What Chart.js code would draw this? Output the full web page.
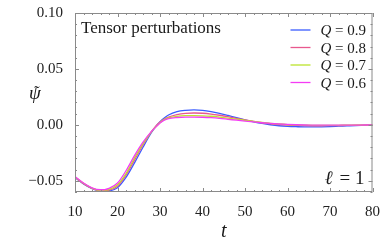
<!DOCTYPE html>
<html>
<head>
<meta charset="utf-8">
<script src="https://cdn.jsdelivr.net/npm/chart.js@4"></script>
<style>
  html, body { margin: 0; padding: 0; background: #fff; }
  #wrap { width: 383px; height: 247px; }
</style>
</head>
<body>
<div id="wrap"><canvas id="chart" width="383" height="247"></canvas></div>
<script>
// time samples
var tVals = [10, 12, 14, 16, 17, 18, 20, 22, 24, 26, 28, 29, 30, 31, 32, 34, 36, 38, 40, 42, 44, 46, 48, 50,
             52, 54, 56, 58, 60, 62, 64, 66, 68, 70, 72, 74, 76, 78, 80];

var psiQ09 = [-0.0472, -0.0528, -0.0570, -0.0592, -0.0595, -0.0592, -0.0562, -0.0470, -0.0340, -0.0200, -0.0068,
              -0.0015, 0.0028, 0.0062, 0.0088, 0.0118, 0.0130, 0.0134, 0.0130, 0.0119, 0.0103, 0.0084, 0.0064, 0.0045,
              0.0028, 0.0013, 0.0001, -0.0008, -0.0013, -0.0016, -0.0018, -0.0018, -0.0017, -0.0015, -0.0012, -0.0009,
              -0.0006, -0.0004, -0.0002];
var psiQ08 = [-0.0468, -0.0525, -0.0567, -0.0588, -0.0589, -0.0584, -0.0548, -0.0450, -0.0315, -0.0180, -0.0060,
              -0.0012, 0.0025, 0.0052, 0.0070, 0.0092, 0.0103, 0.0106, 0.0104, 0.0097, 0.0086, 0.0073, 0.0058, 0.0044,
              0.0031, 0.0019, 0.0010, 0.0003, -0.0002, -0.0005, -0.0007, -0.0008, -0.0008, -0.0007, -0.0006, -0.0005,
              -0.0003, -0.0002, -0.0001];
var psiQ07 = [-0.0465, -0.0522, -0.0565, -0.0585, -0.0584, -0.0577, -0.0535, -0.0435, -0.0295, -0.0168, -0.0060,
              -0.0018, 0.0020, 0.0047, 0.0062, 0.0076, 0.0082, 0.0083, 0.0081, 0.0077, 0.0070, 0.0061, 0.0051, 0.0041,
              0.0031, 0.0022, 0.0014, 0.0008, 0.0003, 0.0000, -0.0002, -0.0004, -0.0004, -0.0004, -0.0004, -0.0003,
              -0.0002, -0.0001, -0.0001];
var psiQ06 = [-0.0462, -0.0520, -0.0563, -0.0580, -0.0578, -0.0568, -0.0520, -0.0410, -0.0275, -0.0155, -0.0058,
              -0.0020, 0.0016, 0.0042, 0.0056, 0.0066, 0.0070, 0.0070, 0.0068, 0.0064, 0.0058, 0.0050, 0.0042, 0.0034,
              0.0026, 0.0019, 0.0013, 0.0008, 0.0004, 0.0001, -0.0001, -0.0002, -0.0003, -0.0003, -0.0003, -0.0002,
              -0.0002, -0.0001, -0.0001];

var seriesLabels = ['Q = 0.9', 'Q = 0.8', 'Q = 0.7', 'Q = 0.6'];
var seriesColors = ['#3a5cff', '#e8588e', '#bce42c', '#f43cf4'];

var xTicks = [10, 20, 30, 40, 50, 60, 70, 80];
var yTicks = [-0.05, 0.00, 0.05, 0.10];
var xMinorStep = 2;
var yMinorStep = 0.01;

var serif = "'Liberation Serif', 'DejaVu Serif', serif";

function toPoints(ys) {
    return tVals.map(function(t, i) { return { x: t, y: ys[i] }; });
}

var allSeries = [psiQ09, psiQ08, psiQ07, psiQ06];
var datasets = allSeries.map(function(ys, i) {
    return {
        label: seriesLabels[i],
        data: toPoints(ys),
        borderColor: seriesColors[i],
        borderWidth: 1.3,
        pointRadius: 0,
        fill: false,
        cubicInterpolationMode: 'monotone',
        order: allSeries.length - i
    };
});

// frame, inward ticks, legend and annotations
var framePlugin = {
    id: 'frame',
    afterDraw: function(chart) {
        var ctx = chart.ctx, a = chart.chartArea;
        var xs = chart.scales.x, ys = chart.scales.y;
        ctx.save();
        ctx.strokeStyle = '#8a8a8a';
        ctx.lineWidth = 1;
        ctx.strokeRect(a.left + 0.5, a.top + 0.5, a.right - a.left - 1, a.bottom - a.top - 1);

        ctx.beginPath();
        var v, p, len;
        for (v = xs.min; v <= xs.max + 1e-9; v += xMinorStep) {
            p = Math.round(xs.getPixelForValue(v)) + 0.5;
            len = (Math.abs(v % 10) < 1e-6) ? 4 : 2;
            ctx.moveTo(p, a.bottom); ctx.lineTo(p, a.bottom - len);
            ctx.moveTo(p, a.top); ctx.lineTo(p, a.top + len);
        }
        for (v = -0.06; v <= ys.max + 1e-9; v += yMinorStep) {
            p = Math.round(ys.getPixelForValue(v)) + 0.5;
            var k = Math.round(v * 100);
            len = (k % 5 === 0) ? 4 : 2;
            ctx.moveTo(a.left, p); ctx.lineTo(a.left + len, p);
            ctx.moveTo(a.right, p); ctx.lineTo(a.right - len, p);
        }
        ctx.stroke();

        ctx.fillStyle = '#1a1a1a';
        ctx.textBaseline = 'alphabetic';
        ctx.textAlign = 'left';
        ctx.font = '17px ' + serif;
        ctx.fillText('Tensor perturbations', a.left + 6, a.top + 20);

        // legend
        chart.data.datasets.forEach(function(ds, i) {
            var yy = a.top + 17 + i * 17.5;
            ctx.strokeStyle = ds.borderColor;
            ctx.lineWidth = 1.3;
            ctx.beginPath();
            ctx.moveTo(a.right - 82, yy); ctx.lineTo(a.right - 62, yy);
            ctx.stroke();
            var parts = ds.label.split(' = ');
            ctx.font = 'italic 15px ' + serif;
            ctx.fillText(parts[0], a.right - 52, yy + 5);
            var w = ctx.measureText(parts[0]).width;
            ctx.font = '15px ' + serif;
            ctx.fillText(' = ' + parts[1], a.right - 52 + w, yy + 5);
        });

        // l = 1
        ctx.textAlign = 'right';
        ctx.font = '19px ' + serif;
        var rest = ' = 1';
        var rw = ctx.measureText(rest).width;
        ctx.fillText(rest, a.right - 8, a.bottom - 8);
        ctx.font = 'italic 19px ' + serif;
        ctx.fillText('\u2113', a.right - 10 - rw, a.bottom - 8);

        // axis titles
        ctx.textAlign = 'center';
        ctx.font = 'italic 20px ' + serif;
        ctx.fillText('t', (a.left + a.right) / 2, 237);
        ctx.font = 'italic 19px ' + serif;
        ctx.fillText('\u03C8', 35, 99);
        ctx.font = '16px ' + serif;
        ctx.fillText('\u02DC', 37, 97);
        ctx.restore();
    }
};

new Chart(document.getElementById('chart').getContext('2d'), {
    type: 'line',
    data: { datasets: datasets },
    options: {
        responsive: false,
        animation: false,
        layout: { padding: { top: 7, right: 8, left: 0, bottom: 0 } },
        plugins: { legend: { display: false }, tooltip: { enabled: false } },
        scales: {
            x: {
                type: 'linear',
                min: 10, max: 80,
                grid: { display: false },
                border: { display: false },
                afterBuildTicks: function(s) { s.ticks = xTicks.map(function(v) { return { value: v }; }); },
                afterFit: function(s) { s.height = 55; },
                ticks: {
                    color: '#222', padding: 3, maxRotation: 0,
                    font: { family: serif, size: 15 },
                    callback: function(v) { return String(v); }
                }
            },
            y: {
                type: 'linear',
                min: -0.06, max: 0.10,
                grid: { display: false },
                border: { display: false },
                afterBuildTicks: function(s) { s.ticks = yTicks.map(function(v) { return { value: v }; }); },
                afterFit: function(s) { s.width = 75; },
                ticks: {
                    color: '#222', padding: 4,
                    font: { family: serif, size: 15 },
                    callback: function(v) {
                        var s = Math.abs(v).toFixed(2);
                        return v < -1e-9 ? '\u2212' + s : s;
                    }
                }
            }
        }
    },
    plugins: [framePlugin]
});
</script>
</body>
</html>
